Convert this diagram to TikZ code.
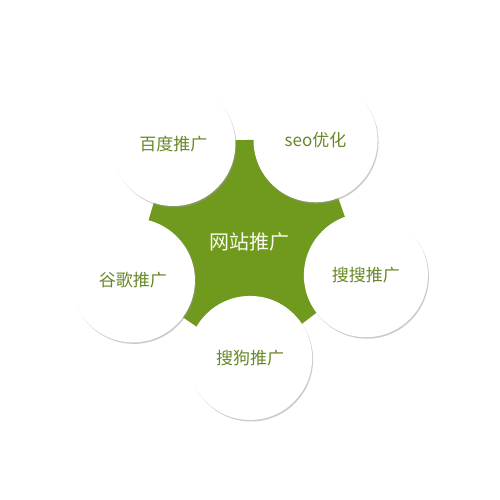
\documentclass[tikz,border=0pt]{standalone}
\usepackage{fontspec}
\setmainfont{Noto Sans CJK SC}
\usepackage{tikz}
\usetikzlibrary{calc,shadows}

\definecolor{hubgreen}{RGB}{112,154,30}
\definecolor{leafgreen}{RGB}{104,136,38}
\definecolor{hubtext}{RGB}{250,252,235}

\begin{document}
\begin{tikzpicture}[x=1pt,y=1pt,
	hubnode/.style={text=hubtext,font=\fontsize{20}{24}\selectfont},
	leafnode/.style={circle,fill=white,minimum size=124pt,inner sep=0pt,
		text=leafgreen,font=\fontsize{17}{20}\selectfont,
		drop shadow={shadow xshift=1pt,shadow yshift=-1.5pt,fill=black!40,opacity=.5}}
	]
	
	% the page
	\useasboundingbox[fill=white] (0,0) rectangle (500,500);
	\coordinate (hub) at (247,260);
	
	% the corners of the green star
	\foreach \a [count=\i] in {91.5,163.5,235.5,307.5,19.5}{
		\coordinate (k\i a) at ($(hub)+(\a:100)+(\a-90:30)$);
		\coordinate (k\i b) at ($(hub)+(\a:100)+(\a+90:30)$);
	}
	\fill[hubgreen] (k1a) -- (k1b) -- (k2a) -- (k2b) -- (k3a) -- (k3b)
		-- (k4a) -- (k4b) -- (k5a) -- (k5b) -- cycle;
	
	% the five circles
	\node[leafnode] (seo)    at ($(hub)+(55.5:121)$)  {seo优化};
	\node[leafnode] (baidu)  at ($(hub)+(127.5:121)$) {百度推广};
	\node[leafnode] (google) at ($(hub)+(199.5:121)$) {谷歌推广};
	\node[leafnode] (sogou)  at ($(hub)+(271.5:118)$) {搜狗推广};
	\node[leafnode] (soso)   at ($(hub)+(343.5:124)$) {搜搜推广};
	
	% the middle
	\node[hubnode] (web) at ($(hub)+(2,-2)$) {网站推广};
\end{tikzpicture}
\end{document}
